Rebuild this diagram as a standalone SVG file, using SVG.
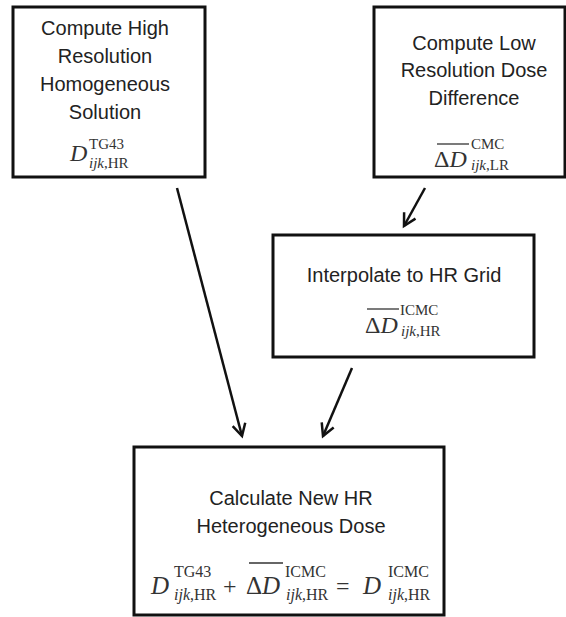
<svg xmlns="http://www.w3.org/2000/svg" width="566" height="617" viewBox="0 0 566 617">
<style>
.box{fill:#fff;stroke:#111;stroke-width:3}
.lbl{font-family:"Liberation Sans",Arial,sans-serif;font-size:20px;fill:#222;text-anchor:middle}
.m{font-family:"Liberation Serif","Times New Roman",serif;fill:#333}
.big{font-size:24px}
.sc{font-size:15px}
.it{font-style:italic}
.ov{stroke:#333;stroke-width:1.3}
.conn{stroke:#111;stroke-width:2.5;fill:none;marker-end:url(#ah)}
</style>
<defs>
<marker id="ah" markerUnits="userSpaceOnUse" markerWidth="20" markerHeight="20" viewBox="-14 -10 20 20" refX="0" refY="0" orient="auto">
<path d="M-12,-6.5 L0,0 L-12,6.5" fill="none" stroke="#111" stroke-width="2.5" stroke-linejoin="miter"/>
</marker>
</defs>
<rect width="566" height="617" fill="#fff"/>
<g id="conns">
<line class="conn" x1="177" y1="188" x2="242" y2="436"/>
<line class="conn" x1="352" y1="368" x2="323" y2="436"/>
<line class="conn" x1="425" y1="188" x2="404" y2="226"/>
</g>
<g id="n1">
<rect class="box" x="13" y="7" width="192" height="170"/>
<text class="lbl" x="105" y="35">Compute High</text>
<text class="lbl" x="105" y="63">Resolution</text>
<text class="lbl" x="105" y="91">Homogeneous</text>
<text class="lbl" x="105" y="119">Solution</text>
<text class="m big it" x="70" y="161">D</text>
<text class="m sc" x="89" y="149">TG43</text>
<text class="m sc" x="89" y="168"><tspan class="it">ijk</tspan>,HR</text>
</g>
<g id="n2">
<rect class="box" x="374" y="7" width="191" height="170"/>
<text class="lbl" x="474" y="50">Compute Low</text>
<text class="lbl" x="474" y="77">Resolution Dose</text>
<text class="lbl" x="474" y="105">Difference</text>
<line class="ov" x1="437" y1="144" x2="469" y2="144"/>
<text class="m big" x="434" y="167">Δ<tspan class="it">D</tspan></text>
<text class="m sc" x="471" y="149">CMC</text>
<text class="m sc" x="471" y="170"><tspan class="it">ijk</tspan>,LR</text>
</g>
<g id="n3">
<rect class="box" x="273" y="235" width="261" height="122"/>
<text class="lbl" x="404" y="282">Interpolate to HR Grid</text>
<line class="ov" x1="367" y1="309" x2="399" y2="309"/>
<text class="m big" x="365" y="333">Δ<tspan class="it">D</tspan></text>
<text class="m sc" x="400" y="315">ICMC</text>
<text class="m sc" x="401" y="336"><tspan class="it">ijk</tspan>,HR</text>
</g>
<g id="n4">
<rect class="box" x="134" y="447" width="310" height="168"/>
<text class="lbl" x="291" y="505">Calculate New HR</text>
<text class="lbl" x="291" y="533">Heterogeneous Dose</text>
<text class="m big it" x="151" y="594" style="font-size:25px">D</text>
<text class="m sc" x="174" y="577" style="font-size:16px">TG43</text>
<text class="m sc" x="174" y="600" style="font-size:16px"><tspan class="it">ijk</tspan>,HR</text>
<text class="m big" x="223" y="594">+</text>
<line class="ov" x1="249" y1="563" x2="283" y2="563"/>
<text class="m big" x="246" y="594" style="font-size:25px">Δ<tspan class="it">D</tspan></text>
<text class="m sc" x="285" y="577" style="font-size:16px">ICMC</text>
<text class="m sc" x="286" y="600" style="font-size:16px"><tspan class="it">ijk</tspan>,HR</text>
<text class="m big" x="336" y="594">=</text>
<text class="m big it" x="363" y="594" style="font-size:25px">D</text>
<text class="m sc" x="388" y="577" style="font-size:16px">ICMC</text>
<text class="m sc" x="388" y="600" style="font-size:16px"><tspan class="it">ijk</tspan>,HR</text>
</g>
</svg>
